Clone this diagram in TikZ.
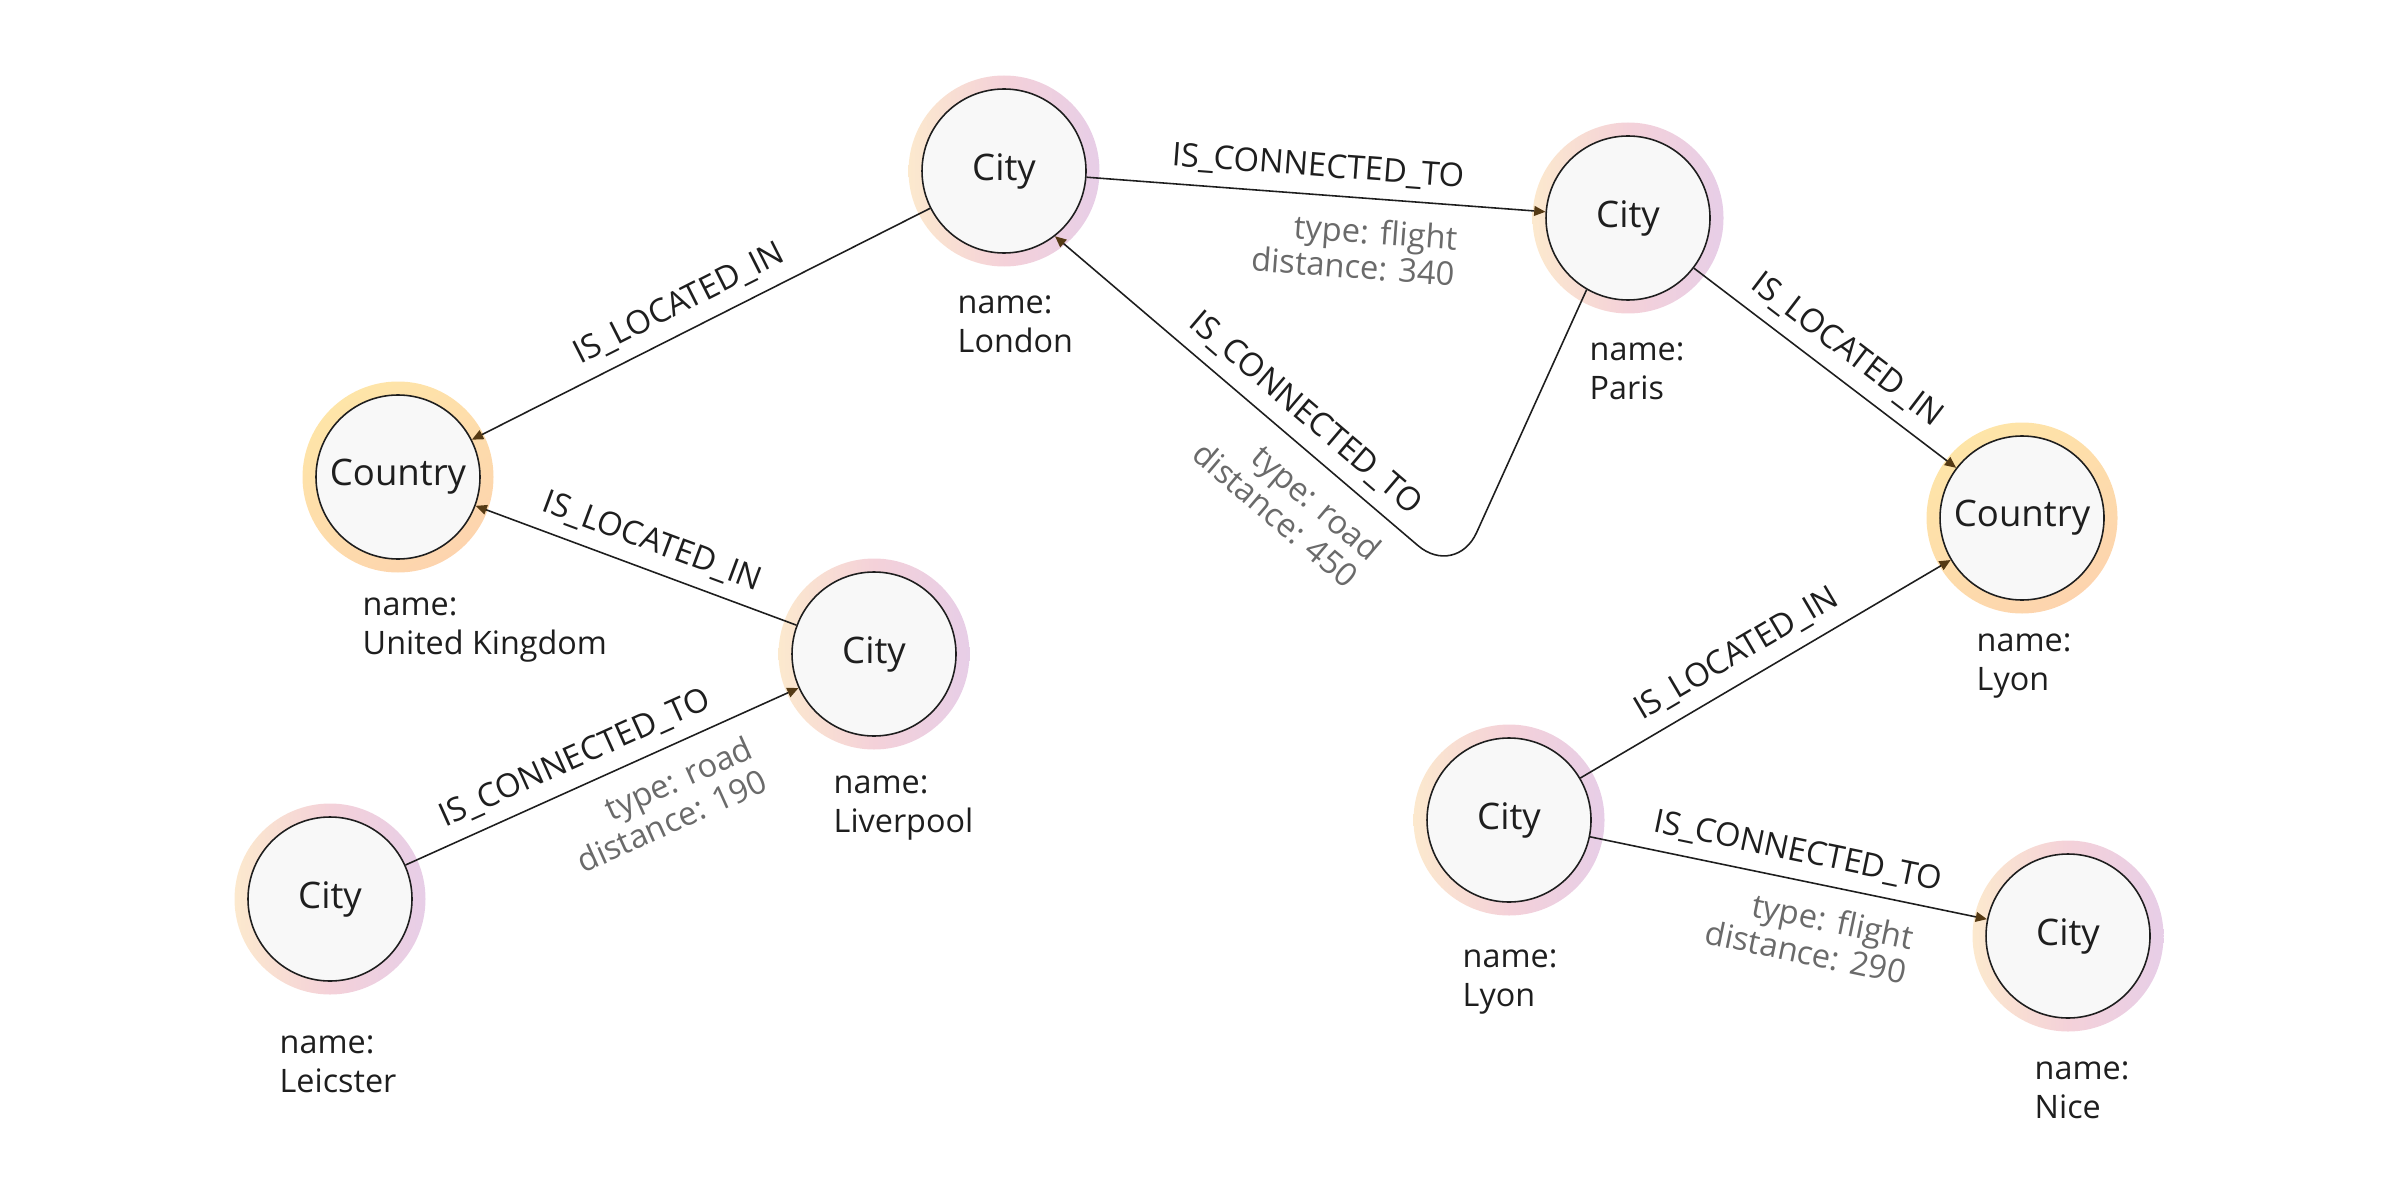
\documentclass[tikz,border=0pt]{standalone}
\usepackage{fontspec}
\setmainfont{Open Sans}
\usetikzlibrary{arrows.meta}

\definecolor{cityL}{HTML}{FCE9CE}
\definecolor{cityM}{HTML}{F4D1D9}
\definecolor{cityR}{HTML}{E7CEE7}
\definecolor{ctryA}{HTML}{FEE5A8}
\definecolor{ctryB}{HTML}{FDD4AE}
\definecolor{nodefill}{HTML}{F8F8F8}
\definecolor{ink}{HTML}{1E1E1E}
\definecolor{propgray}{HTML}{6A6A6A}
\definecolor{tipbrown}{HTML}{553A14}

\begin{document}
\begin{tikzpicture}[
  every node/.style={text=ink},
  city/.style={circle, draw=ink, line width=0.45pt, fill=nodefill,
    minimum size=1.64cm, inner sep=0pt, font=\fontsize{10.4}{12}\selectfont},
  cityring/.style={left color=cityL, right color=cityR, middle color=cityM},
  ctryring/.style={top color=ctryA, bottom color=ctryB, shading angle=35},
  rel/.style={draw=ink, line width=0.45pt,
    -{Triangle[length=3.2pt, width=2.8pt, color=tipbrown]}},
  capt/.style={sloped, above, inner sep=3.5pt, font=\fontsize{9.3}{11}\selectfont},
  prop/.style={sloped, anchor=north east, align=right, inner xsep=2pt,
    inner ysep=5.5pt, text=propgray, font=\fontsize{9.3}{10.2}\selectfont},
  namelbl/.style={anchor=north west, align=left, inner sep=0pt,
    font=\fontsize{9.2}{11}\selectfont},
]
  \useasboundingbox (0,0) rectangle (24,12);

  % 节点中心 (1cm = 100px)
  \coordinate (Lon) at (10.04, 10.29);
  \coordinate (Par) at (16.28,  9.82);
  \coordinate (UK)  at ( 3.98,  7.23);
  \coordinate (Liv) at ( 8.74,  5.46);
  \coordinate (Lei) at ( 3.30,  3.01);
  \coordinate (FR)  at (20.22,  6.82);
  \coordinate (Lyo) at (15.09,  3.80);
  \coordinate (Nic) at (20.68,  2.64);
  \coordinate (C)   at (14.56,  6.22);  % 圆角拐点

  % 彩色外环
  \foreach \p in {Lon, Par, Liv, Lei, Lyo, Nic}
    \shade[cityring] (\p) circle (0.955);
  \foreach \p in {UK, FR}
    \shade[ctryring] (\p) circle (0.955);

  \node[city] (london)    at (Lon) {City};
  \node[city] (paris)     at (Par) {City};
  \node[city] (uk)        at (UK)  {Country};
  \node[city] (liverpool) at (Liv) {City};
  \node[city] (leicster)  at (Lei) {City};
  \node[city] (france)    at (FR)  {Country};
  \node[city] (lyon)      at (Lyo) {City};
  \node[city] (nice)      at (Nic) {City};

  % 关系
  \draw[rel] (london) -- node[capt, pos=0.52] {IS\_LOCATED\_IN} (uk);
  \draw[rel] (liverpool) -- node[capt, pos=0.48] {IS\_LOCATED\_IN} (uk);
  \draw[rel] (leicster) -- node[capt, pos=0.46] {IS\_CONNECTED\_TO}
    node[prop, pos=0.86] {type: road\\distance: 190} (liverpool);
  \draw[rel] (london) -- node[capt, pos=0.5] {IS\_CONNECTED\_TO}
    node[prop, pos=0.83] {type: flight\\distance: 340} (paris);
  \draw[rel, rounded corners=0.5cm] (paris.-120) -- (C)
    -- node[capt, pos=0.42] {IS\_CONNECTED\_TO}
       node[prop, pos=0.13] {type: road\\distance: 450} (london.-52);
  \draw[rel] (paris) -- node[capt, pos=0.52] {IS\_LOCATED\_IN} (france);
  \draw[rel] (lyon) -- node[capt, pos=0.46] {IS\_LOCATED\_IN} (france);
  \draw[rel] (lyon) -- node[capt, pos=0.51] {IS\_CONNECTED\_TO}
    node[prop, pos=0.85] {type: flight\\distance: 290} (nice);

  % 属性
  \node[namelbl] (londonname) at ( 9.57, 9.05) {name:\\London};
  \node[namelbl] (ukname)     at ( 3.62, 6.03) {name:\\United Kingdom};
  \node[namelbl] (livname)    at ( 8.33, 4.25) {name:\\Liverpool};
  \node[namelbl] (leiname)    at ( 2.79, 1.65) {name:\\Leicster};
  \node[namelbl] (parisname)  at (15.89, 8.58) {name:\\Paris};
  \node[namelbl] (frname)     at (19.76, 5.67) {name:\\Lyon};
  \node[namelbl] (lyonname)   at (14.62, 2.51) {name:\\Lyon};
  \node[namelbl] (nicename)   at (20.34, 1.39) {name:\\Nice};
\end{tikzpicture}
\end{document}
